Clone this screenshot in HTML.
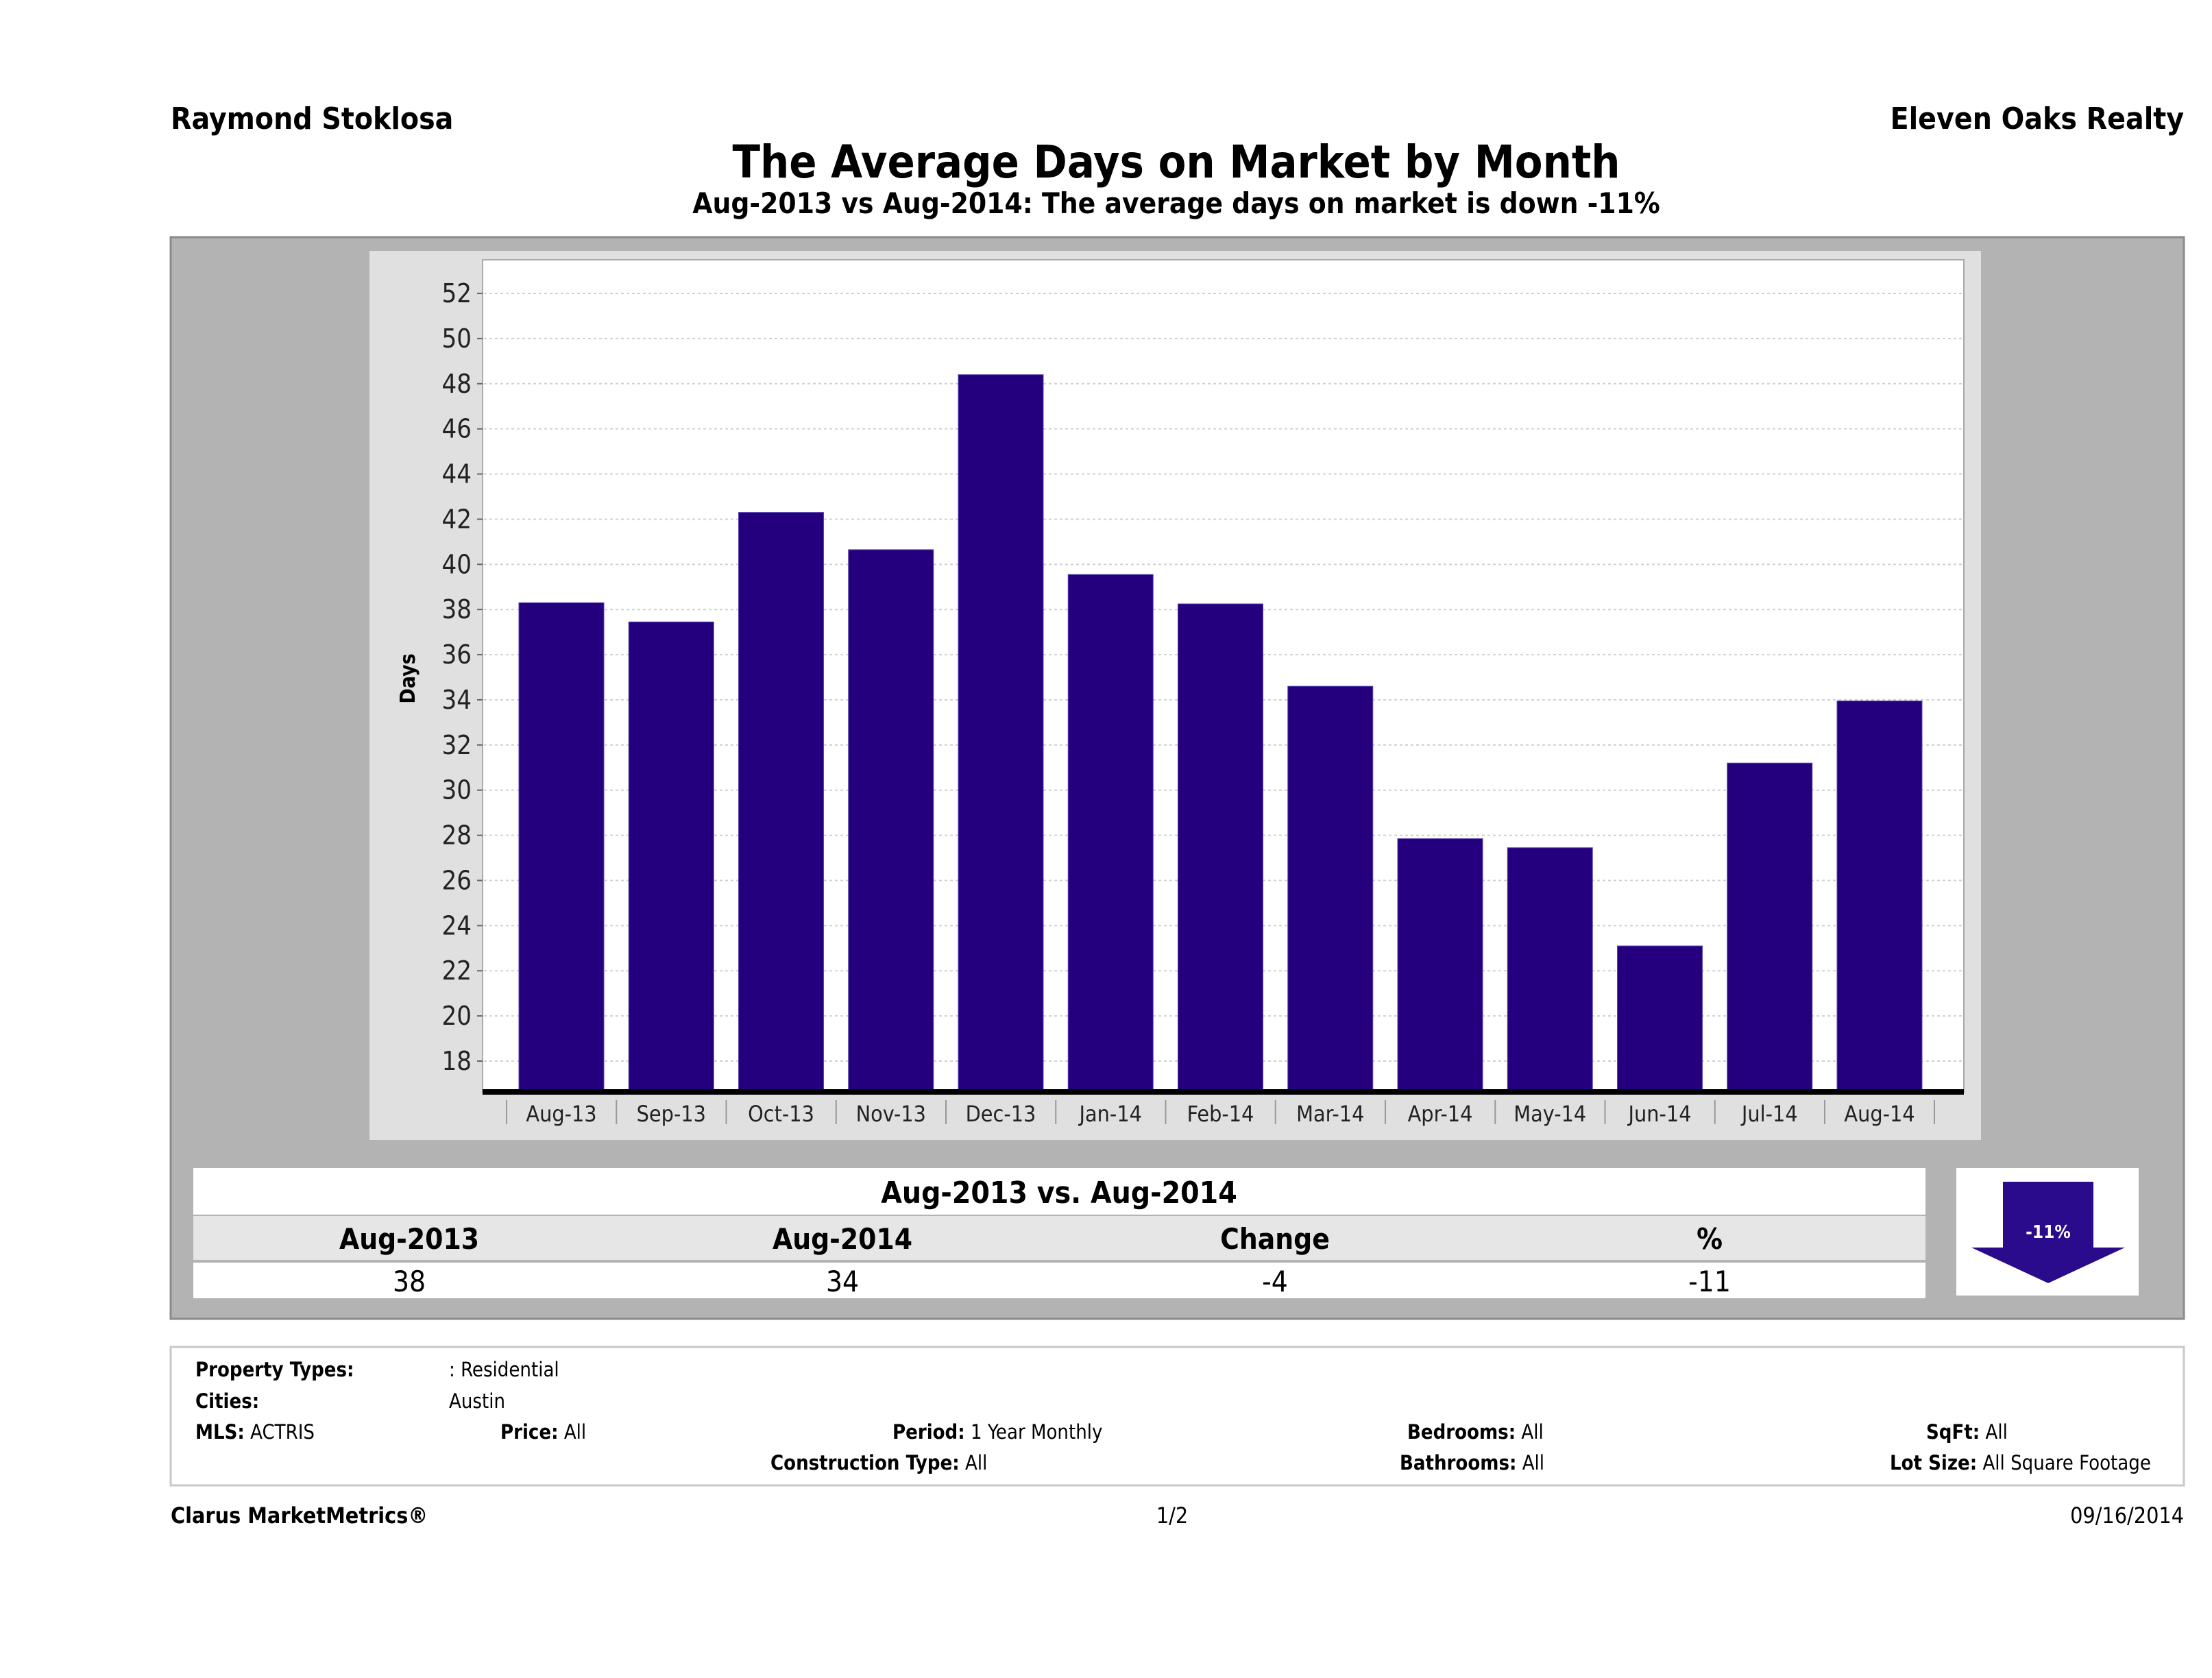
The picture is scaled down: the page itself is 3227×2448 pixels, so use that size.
<!DOCTYPE html>
<html><head><meta charset="utf-8"><style>
html,body{margin:0;padding:0;background:#fff;}
svg{display:block;}
text{font-family:"DejaVu Sans Condensed","DejaVu Sans","Liberation Sans",sans-serif;}
</style></head><body>
<svg id="page" width="3227" height="2448" viewBox="0 0 3227 2448" xmlns="http://www.w3.org/2000/svg">
<text x="249" y="188" font-size="44" font-weight="bold">Raymond Stoklosa</text>
<text x="3186" y="188" font-size="44" font-weight="bold" text-anchor="end">Eleven Oaks Realty</text>
<text x="1716" y="259" font-size="66" font-weight="bold" text-anchor="middle">The Average Days on Market by Month</text>
<text x="1716" y="311" font-size="42" font-weight="bold" text-anchor="middle">Aug-2013 vs Aug-2014: The average days on market is down -11%</text>

<rect x="249" y="346" width="2937" height="1578" fill="#b3b3b3" stroke="#8a8a8a" stroke-width="3"/>
<rect x="539" y="366" width="2351" height="1297" fill="#e0e0e0"/>
<rect x="704" y="379" width="2161" height="1214" fill="#fff" stroke="#aaa" stroke-width="2"/>
<g id="grid"></g>
<g id="bars"></g>
<g id="yticks"></g>
<g id="xticks"></g>
<rect x="704" y="1589" width="2161" height="8" fill="#000"/>
<text transform="translate(605,990) rotate(-90)" font-size="30" font-weight="bold" text-anchor="middle">Days</text>

<rect x="282" y="1704" width="2527" height="68" fill="#fff"/>
<text x="1545" y="1755" font-size="44" font-weight="bold" text-anchor="middle">Aug-2013 vs. Aug-2014</text>
<rect x="282" y="1774" width="2527" height="64" fill="#e6e6e6"/>
<rect x="282" y="1842" width="2527" height="52" fill="#fff"/>
<g font-size="42" text-anchor="middle">
<text x="597" y="1822" font-weight="bold">Aug-2013</text>
<text x="1229" y="1822" font-weight="bold">Aug-2014</text>
<text x="1860" y="1822" font-weight="bold">Change</text>
<text x="2494" y="1822" font-weight="bold">%</text>
<text x="597" y="1884">38</text>
<text x="1229" y="1884">34</text>
<text x="1860" y="1884">-4</text>
<text x="2494" y="1884">-11</text>
</g>
<rect x="2854" y="1704" width="266" height="186" fill="#fff"/>
<polygon points="2922,1724 3054,1724 3054,1820 3100,1820 2988,1872 2876,1820 2922,1820" fill="#2a0b8c"/>
<text x="2988" y="1806" font-size="26" font-weight="bold" fill="#fff" text-anchor="middle">-11%</text>

<rect x="249" y="1965" width="2937" height="202" fill="#fff" stroke="#c8c8c8" stroke-width="3"/>
<g font-size="29">
<text x="285" y="2008" font-weight="bold">Property Types:</text><text x="655" y="2008">: Residential</text>
<text x="285" y="2054" font-weight="bold">Cities:</text><text x="655" y="2054">Austin</text>
<text x="285" y="2099"><tspan font-weight="bold">MLS:</tspan>  ACTRIS</text>
<text x="730" y="2099"><tspan font-weight="bold">Price:</tspan> All</text>
<text x="1302" y="2099"><tspan font-weight="bold">Period:</tspan> 1 Year Monthly</text>
<text x="2053" y="2099"><tspan font-weight="bold">Bedrooms:</tspan> All</text>
<text x="2810" y="2099"><tspan font-weight="bold">SqFt:</tspan>  All</text>
<text x="1124" y="2144"><tspan font-weight="bold">Construction Type:</tspan> All</text>
<text x="2042" y="2144"><tspan font-weight="bold">Bathrooms:</tspan> All</text>
<text x="2757" y="2144"><tspan font-weight="bold">Lot Size:</tspan>  All Square Footage</text>
</g>
<text x="249" y="2222" font-size="32" font-weight="bold">Clarus MarketMetrics®</text>
<text x="1710" y="2222" font-size="32" text-anchor="middle">1/2</text>
<text x="3186" y="2222" font-size="32" text-anchor="end">09/16/2014</text>
</svg>
<script>
const categories = ["Aug-13","Sep-13","Oct-13","Nov-13","Dec-13","Jan-14","Feb-14","Mar-14","Apr-14","May-14","Jun-14","Jul-14","Aug-14"];
const daysValues = [38.3,37.45,42.3,40.65,48.4,39.55,38.25,34.6,27.85,27.45,23.1,31.2,33.95];
const yTickValues = [18,20,22,24,26,28,30,32,34,36,38,40,42,44,46,48,50,52];

const NS = "http://www.w3.org/2000/svg";
const baseY = 1593;
function yScale(v){ return 1548 - (v - 18) * 32.94; }
function xCenter(i){ return 819 + i * 160.25; }
function mk(tag, attrs, parent){ const e = document.createElementNS(NS, tag); for (const k in attrs) e.setAttribute(k, attrs[k]); parent.appendChild(e); return e; }

const grid = document.getElementById('grid');
const yt = document.getElementById('yticks');
yTickValues.forEach(v => {
  const y = yScale(v);
  const l = mk('line', {x1:706, x2:2863, y1:y, y2:y, stroke:'#d0d0d0', 'stroke-width':2, 'stroke-dasharray':'4,4'}, grid);
  
  
  const tk = mk('line', {x1:696, x2:704, y1:y, y2:y, stroke:'#666', 'stroke-width':2}, yt);
  
  
  const t = mk('text', {x:688, y:y+13, 'font-size':38, 'text-anchor':'end', fill:'#222'}, yt);
  t.textContent = v;
  
  
});

const bars = document.getElementById('bars');
const xt = document.getElementById('xticks');
categories.forEach((c, i) => {
  const cx = xCenter(i);
  const top = yScale(daysValues[i]);
  const r = mk('rect', {x:cx-62, y:top, width:124, height:baseY-top, fill:'#24007f', stroke:'#5a45b0', 'stroke-width':1}, bars);
  
  
  const sep = mk('line', {x1:cx-80, x2:cx-80, y1:1605, y2:1640, stroke:'#999', 'stroke-width':2}, xt);
  
  
  const t = mk('text', {x:cx, y:1636, 'font-size':32, 'text-anchor':'middle', fill:'#222'}, xt);
  t.textContent = c;
  
  
});
const lastSep = mk('line', {x1:xCenter(categories.length-1)+80, x2:xCenter(categories.length-1)+80, y1:1605, y2:1640, stroke:'#999', 'stroke-width':2}, xt);


</script>
</body></html>
